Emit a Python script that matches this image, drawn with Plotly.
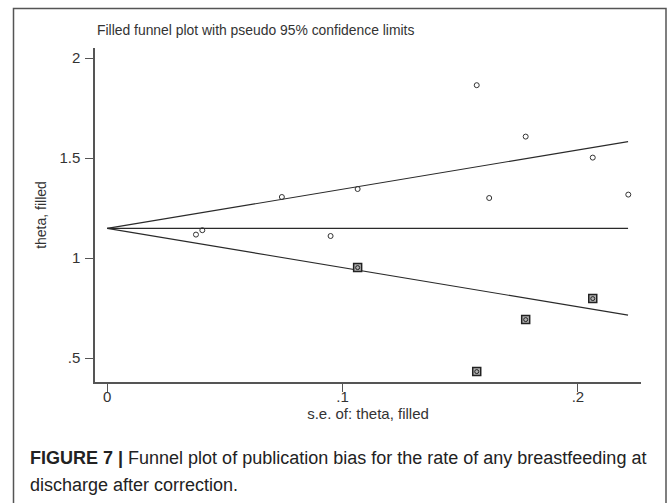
import plotly.graph_objects as go

# Observed studies (circles)
obs_se = [0.0377, 0.0404, 0.0742, 0.0949, 0.1064, 0.1570, 0.1623, 0.1778, 0.2063, 0.2214]
obs_theta = [1.117, 1.139, 1.305, 1.110, 1.345, 1.864, 1.300, 1.607, 1.502, 1.317]

# Filled (imputed) studies (squares)
fill_se = [0.1064, 0.1570, 0.1778, 0.2063]
fill_theta = [0.952, 0.432, 0.692, 0.797]

# Pooled estimate and funnel extent
theta_pooled = 1.148
se_funnel = [0.0, 0.2213]
z = 1.96

upper = [theta_pooled + z * s for s in se_funnel]
lower = [theta_pooled - z * s for s in se_funnel]
center = [theta_pooled for s in se_funnel]

x_ticks = [0, 0.1, 0.2]
x_ticktext = ["0", ".1", ".2"]
y_ticks = [0.5, 1, 1.5, 2]
y_ticktext = [".5", "1", "1.5", "2"]

W, H = 669, 503
L, R, T, B = 95, 641, 48, 382

line_col = "#2a2a2a"
axis_col = "#555555"
txt_col = "#333333"
font_chart = "Liberation Sans, Arial, sans-serif"
font_cap = "Liberation Sans, Arial, sans-serif"

fig = go.Figure()
for ys in (upper, center, lower):
    fig.add_trace(go.Scatter(x=se_funnel, y=ys, mode="lines",
                             line=dict(color=line_col, width=1.1),
                             hoverinfo="skip", showlegend=False))

fig.add_trace(go.Scatter(x=fill_se, y=fill_theta, mode="markers",
                         marker=dict(symbol="square", size=8, color="#b0b0b0",
                                     line=dict(color="#222222", width=1.5)),
                         showlegend=False))
fig.add_trace(go.Scatter(x=fill_se, y=fill_theta, mode="markers",
                         marker=dict(symbol="circle-open", size=4, color="#222222",
                                     line=dict(color="#222222", width=1)),
                         showlegend=False))
fig.add_trace(go.Scatter(x=obs_se, y=obs_theta, mode="markers",
                         marker=dict(symbol="circle-open", size=5, color="#333333",
                                     line=dict(color="#333333", width=1)),
                         showlegend=False))

def px2x(p):
    return (p - L) / (R - L)

def py2y(p):
    return (B - p) / (B - T)

fig.update_layout(
    width=W, height=H,
    margin=dict(l=L, r=W - R, t=T, b=H - B, pad=0),
    paper_bgcolor="white", plot_bgcolor="white",
    font=dict(family=font_chart, color=txt_col, size=14),
    xaxis=dict(range=[-0.0052, 0.2268], tickvals=x_ticks, ticktext=x_ticktext,
               showgrid=False, zeroline=False, showline=True, linecolor=axis_col,
               linewidth=1.5, ticks="outside", ticklen=8, tickwidth=1.2,
               tickcolor=axis_col, tickfont=dict(size=15, color=txt_col),
               ticklabelstandoff=-8,
               title=dict(text="s.e. of: theta, filled", font=dict(size=15, color=txt_col),
                          standoff=0)),
    yaxis=dict(range=[0.38, 2.05], tickvals=y_ticks, ticktext=y_ticktext,
               showgrid=False, zeroline=False, showline=True, linecolor=axis_col,
               linewidth=1.5, ticks="outside", ticklen=8, tickwidth=1.2,
               tickcolor=axis_col, tickfont=dict(size=15, color=txt_col),
               ticklabelstandoff=2,
               title=dict(text="theta, filled", font=dict(size=14, color=txt_col),
                          standoff=9)),
    annotations=[
        dict(text="Filled funnel plot with pseudo 95% confidence limits",
             xref="paper", yref="paper", x=px2x(95), y=py2y(30),
             xanchor="left", yanchor="middle", showarrow=False,
             font=dict(size=13.9, color=txt_col, family=font_chart)),
        dict(text="<b>FIGURE 7 |</b> Funnel plot of publication bias for the rate of any breastfeeding at",
             xref="paper", yref="paper", x=px2x(28), y=py2y(458),
             xanchor="left", yanchor="middle", showarrow=False,
             font=dict(size=18, color="#222222", family=font_cap)),
        dict(text="discharge after correction.",
             xref="paper", yref="paper", x=px2x(28), y=py2y(485),
             xanchor="left", yanchor="middle", showarrow=False,
             font=dict(size=18, color="#222222", family=font_cap)),
    ],
    shapes=[
        dict(type="rect", xref="paper", yref="paper",
             x0=px2x(13.5), x1=px2x(666), y0=py2y(520), y1=py2y(8.5),
             line=dict(color="#555555", width=1.5), fillcolor="rgba(0,0,0,0)",
             layer="below"),
    ],
)

fig.write_html("out.html")
